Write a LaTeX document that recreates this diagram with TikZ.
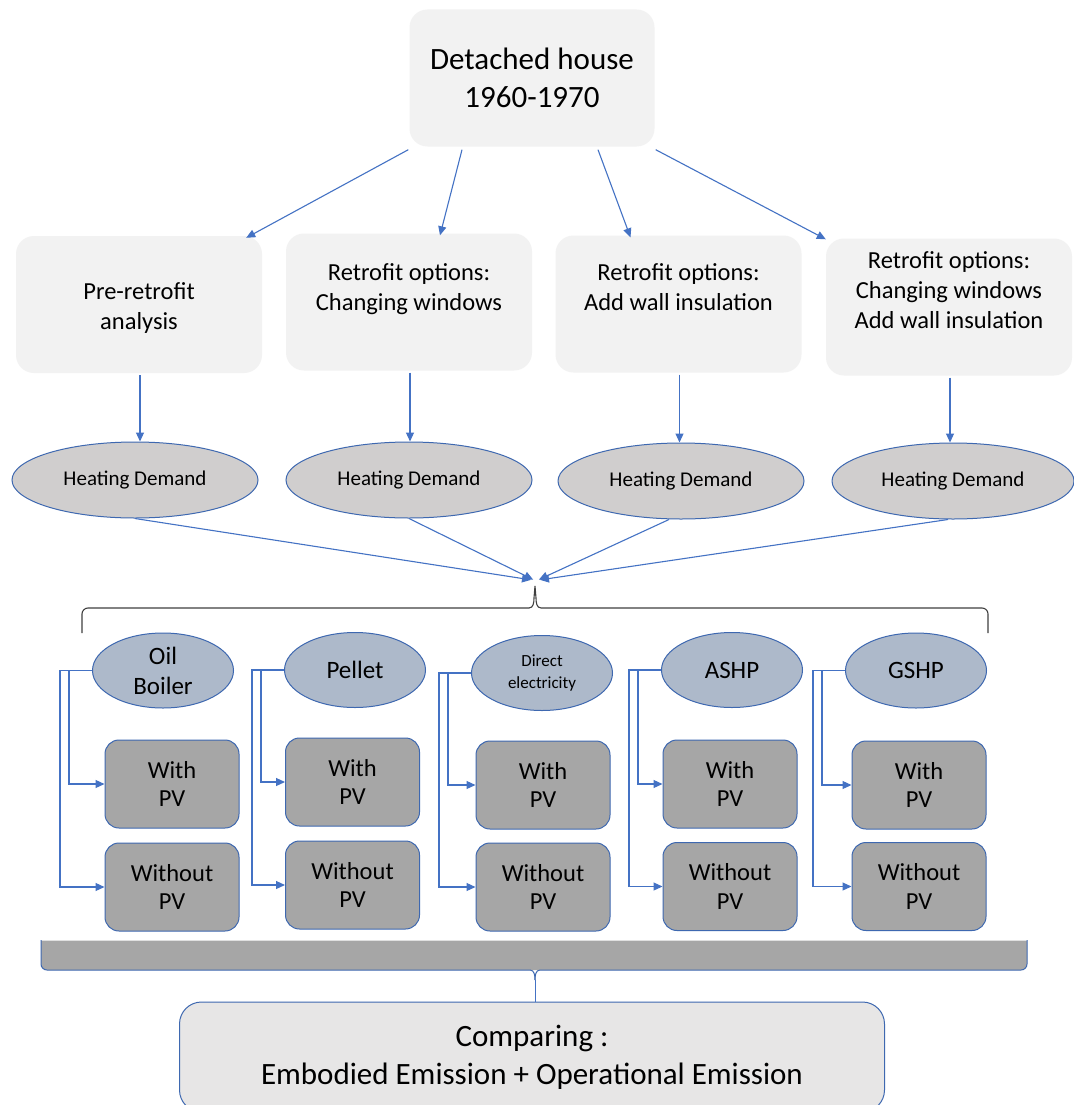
\documentclass[tikz,border=0pt]{standalone}
\usepackage{fontspec}
\setmainfont{Carlito}
\usetikzlibrary{arrows.meta,shapes.geometric,calc}
\definecolor{ablue}{HTML}{4472C4}
\definecolor{bline}{HTML}{3E68B0}
\definecolor{lightbox}{HTML}{F2F2F2}
\definecolor{hdfill}{HTML}{D0CECE}
\definecolor{srcfill}{HTML}{ADB9CA}
\definecolor{pvfill}{HTML}{A6A6A6}
\definecolor{cmpfill}{HTML}{E7E6E6}
\tikzset{
  conn/.style={draw=ablue, line width=1.1pt, -{Triangle[length=9pt,width=8pt]}},
  plain/.style={draw=ablue, line width=1.1pt},
  topbox/.style={rounded corners=18pt, fill=lightbox, align=center, font=\fontsize{31}{38}\selectfont, minimum width=245pt, minimum height=137pt, inner sep=0pt},
  optbox/.style={rounded corners=18pt, fill=lightbox, minimum width=246pt, minimum height=137pt, inner sep=0pt},
  opttext/.style={align=center, font=\fontsize{24.5}{30}\selectfont, inner sep=0pt},
  hd/.style={ellipse, draw=bline, line width=1pt, fill=hdfill, font=\fontsize{21}{24}\selectfont, minimum width=246pt, minimum height=76pt, inner sep=0pt},
  src/.style={ellipse, draw=bline, line width=1pt, fill=srcfill, align=center, font=\fontsize{25}{30}\selectfont, minimum width=141pt, minimum height=75pt, inner sep=0pt},
  pv/.style={rounded corners=14pt, draw=bline, line width=1pt, fill=pvfill, align=center, font=\fontsize{24.5}{28.5}\selectfont, minimum width=134pt, minimum height=88pt, inner sep=0pt},
  cmpbox/.style={rounded corners=22pt, draw=bline, line width=1pt, fill=cmpfill, align=center, font=\fontsize{31}{38}\selectfont, minimum width=705pt, minimum height=110pt, inner sep=0pt},
}
\begin{document}
\begin{tikzpicture}[x=1pt,y=-1pt]
\useasboundingbox (0,0) rectangle (1073,1105);
\fill[white] (0,0) rectangle (1073,1105);

% top
\node[topbox] (top) at (532,78) {Detached house\\1960-1970};
% options
\node[optbox] (o1) at (139,304.5) {};
\node[optbox] (o2) at (409,302) {};
\node[optbox] (o3) at (678.5,304) {};
\node[optbox] (o4) at (949,307) {};
\node[opttext] (t1) at (139,308) {Pre-retrofit\\analysis};
\node[opttext] (t2) at (409,289.5) {Retrofit options:\\Changing windows};
\node[opttext] (t3) at (678.5,287.5) {Retrofit options:\\Add wall insulation};
\node[opttext] (t4) at (949,290) {Retrofit options:\\Changing windows\\Add wall insulation};

\draw[conn] ([xshift=-1pt,yshift=-3pt]top.south west) -- ([xshift=-16pt,yshift=-2pt]o1.north east);
\draw[conn] ([xshift=-70pt,yshift=-3pt]top.south) -- ([xshift=31pt,yshift=-2pt]o2.north);
\draw[conn] ([xshift=66pt,yshift=-3pt]top.south) -- ([xshift=-48pt,yshift=-2pt]o3.north);
\draw[conn] ([xshift=1pt,yshift=-3pt]top.south east) -- ([yshift=-1pt]o4.north west);

% heating demand
\node[hd] (h1) at (135,480) {Heating Demand};
\node[hd] (h2) at (409,480) {Heating Demand};
\node[hd] (h3) at (681,481) {Heating Demand};
\node[hd, minimum width=242pt] (h4) at (953,481) {Heating Demand};

\draw[conn] ([xshift=1pt,yshift=-2pt]o1.south) -- ([xshift=1pt]o1.south |- h1.north);
\draw[conn] ([xshift=1pt,yshift=-2pt]o2.south) -- ([xshift=1pt]o2.south |- h2.north);
\draw[conn] ([xshift=1pt,yshift=-2pt]o3.south) -- ([xshift=1pt]o3.south |- h3.north);
\draw[conn] ([xshift=1pt,yshift=-2pt]o4.south) -- ([xshift=1pt]o4.south |- h4.north);

% bracket
\coordinate (tip) at (535,580);
\draw[conn, shorten >=1pt] (h1.south) -- ([xshift=-3pt]tip);
\draw[conn, shorten >=1pt] (h2.south) -- ([xshift=-1pt]tip);
\draw[conn, shorten >=1pt] ([xshift=-12pt]h3.south) -- ([xshift=3pt]tip);
\draw[conn, shorten >=1pt] ([xshift=-5pt]h4.south) -- ([xshift=4pt]tip);
\draw[draw=black!75, line width=1.1pt]
  (82,633) -- (82,614) to[out=90,in=180] (88,608) -- (529,608)
  to[out=0,in=-90] (534,598) -- (535,586) -- (536,598)
  to[out=-90,in=180] (541,608) -- (982,608) to[out=0,in=90] (988,614) -- (988,633);

% sources
\node[src] (s1) at (163,670.5) {Oil\\Boiler};
\node[src] (s2) at (355,670) {Pellet};
\node[src, font=\fontsize{17}{22}\selectfont] (s3) at (542,673) {Direct\\electricity};
\node[src] (s4) at (732,670) {ASHP};
\node[src] (s5) at (916,670.5) {GSHP};

% PV boxes
\node[pv] (w1) at (172,784) {With\\PV};
\node[pv] (n1) at (172,887) {Without\\PV};
\node[pv] (w2) at (352.5,782) {With\\PV};
\node[pv] (n2) at (352.5,885) {Without\\PV};
\node[pv] (w3) at (543,785) {With\\PV};
\node[pv] (n3) at (543,887) {Without\\PV};
\node[pv] (w4) at (730,784) {With\\PV};
\node[pv] (n4) at (730,886.5) {Without\\PV};
\node[pv] (w5) at (919,785) {With\\PV};
\node[pv] (n5) at (919,886.5) {Without\\PV};

\foreach \i in {1,...,5}{
  \draw[conn] (s\i.west) -- ++(-23,0) |- (w\i.west);
  \draw[conn] (s\i.west) -- ++(-32,0) |- (n\i.west);
}

% bottom bar
\node[rectangle, minimum width=986pt, minimum height=30pt, inner sep=0pt] (bar) at (534,955) {};
\fill[pvfill] (41,940) -- (1027,940) -- (1027,964) to[out=-90,in=0] (1021,970) -- (41+6,970) to[out=180,in=-90] (41,964) -- cycle;
\draw[draw=black!12, line width=1pt] (41,940) -- (1027,940);
\draw[draw=bline, line width=1pt] (1027,940) -- (1027,964) to[out=-90,in=0] (1021,970) -- (540,970)
  to[out=180,in=90] (535,980);
\draw[draw=bline, line width=1pt] (41,940) -- (41,964) to[out=-90,in=180] (47,970) -- (530,970)
  to[out=0,in=90] (535,980);

% comparing
\node[cmpbox] (cmp) at (532,1057) {Comparing :\\Embodied Emission + Operational Emission};
\draw[plain, line width=1pt] (535,980) -- (cmp.north -| 535,980);
\end{tikzpicture}
\end{document}
